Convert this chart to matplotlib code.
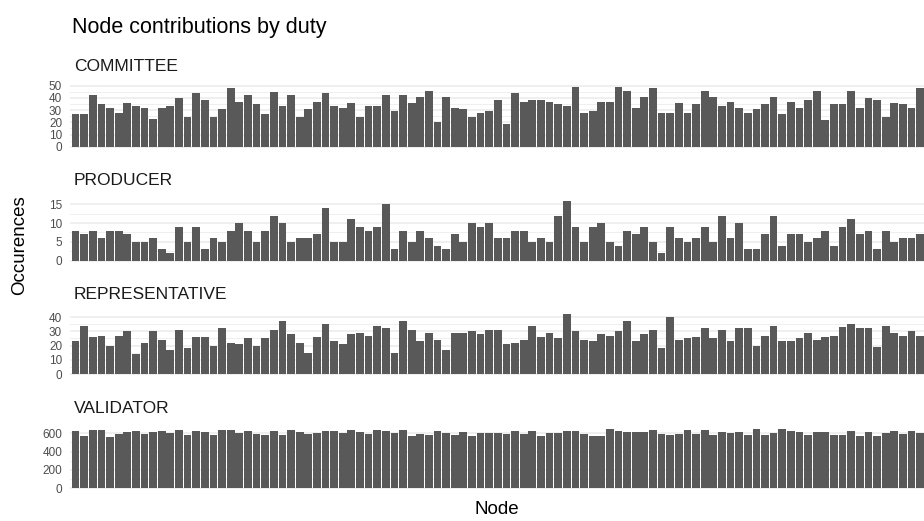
import matplotlib
matplotlib.use("Agg")
import matplotlib.pyplot as plt
import numpy as np

plt.rcParams['font.family'] = ['Liberation Sans', 'DejaVu Sans']

duties = ["COMMITTEE", "PRODUCER", "REPRESENTATIVE", "VALIDATOR"]

committee = [27, 27, 42, 35, 32, 28, 36, 33, 32, 23, 32, 33, 40, 24, 44, 38, 24, 31, 48, 37,
             42, 35, 27, 45, 33, 42, 24, 31, 37, 44, 33, 32, 36, 24, 33, 33, 42, 29, 42, 36,
             41, 46, 20, 41, 32, 31, 24, 28, 29, 38, 19, 44, 37, 38, 38, 37, 35, 33, 49, 28,
             29, 37, 37, 49, 46, 32, 41, 48, 28, 28, 36, 28, 35, 46, 41, 33, 37, 32, 28, 31,
             35, 41, 27, 37, 32, 38, 46, 22, 35, 35, 46, 32, 40, 38, 24, 36, 35, 32, 48]

producer = [8, 7, 8, 6, 8, 8, 7, 5, 5, 6, 3, 2, 9, 5, 9, 3, 6, 5, 8, 10,
            8, 5, 8, 12, 10, 5, 6, 6, 7, 14, 5, 5, 11, 9, 8, 9, 15, 3, 8, 5,
            8, 6, 4, 3, 7, 5, 10, 9, 10, 6, 6, 8, 8, 5, 6, 5, 12, 16, 9, 5,
            9, 10, 5, 4, 8, 7, 9, 5, 2, 9, 6, 5, 6, 9, 5, 12, 6, 10, 3, 3,
            7, 12, 4, 7, 7, 5, 6, 8, 4, 9, 11, 7, 8, 3, 8, 5, 6, 6, 7]

representative = [23, 34, 26, 27, 20, 27, 30, 14, 22, 30, 24, 17, 31, 18, 26, 26, 20, 32, 22, 21,
                  25, 20, 25, 31, 37, 28, 22, 15, 26, 35, 23, 21, 28, 29, 27, 34, 32, 15, 37, 31,
                  23, 29, 24, 17, 29, 29, 30, 28, 31, 31, 21, 22, 24, 34, 26, 29, 25, 42, 30, 24,
                  23, 28, 27, 30, 37, 23, 28, 31, 18, 40, 24, 25, 26, 32, 25, 31, 23, 32, 32, 20,
                  27, 34, 23, 23, 25, 29, 24, 26, 27, 33, 35, 32, 32, 19, 34, 29, 27, 30, 27]

validator = [627, 573, 638, 638, 562, 595, 616, 627, 595, 616, 627, 605, 638, 584, 627, 616, 584, 638, 638, 605,
             627, 595, 584, 627, 584, 638, 616, 595, 605, 627, 627, 605, 638, 616, 595, 638, 627, 605, 638, 573,
             595, 584, 627, 605, 584, 616, 573, 605, 605, 605, 595, 627, 595, 627, 573, 605, 605, 627, 627, 595,
             573, 573, 649, 627, 616, 616, 616, 638, 595, 584, 595, 638, 595, 638, 584, 616, 605, 616, 584, 649,
             584, 605, 649, 627, 616, 584, 616, 616, 584, 584, 627, 573, 616, 573, 605, 627, 595, 627, 605]

series = [committee, producer, representative, validator]
ticks = [[0, 10, 20, 30, 40, 50], [0, 5, 10, 15], [0, 10, 20, 30, 40], [0, 200, 400, 600]]
minor_ticks = [[5, 15, 25, 35, 45], [2.5, 7.5, 12.5], [5, 15, 25, 35], [100, 300, 500]]

W, H = 924, 521
fig = plt.figure(figsize=(W / 100, H / 100), dpi=100)
fig.patch.set_facecolor("white")

left_px, right_px = 70.4, 924.0
panels_px = [(83.9, 149.7), (197.5, 263.7), (311.2, 377.0), (425.9, 491.0)]

for name, vals, tk, mtk, (top, bot) in zip(duties, series, ticks, minor_ticks, panels_px):
    ax = fig.add_axes([left_px / W, 1 - bot / H, (right_px - left_px) / W, (bot - top) / H])
    n = len(vals)
    x = np.arange(1, n + 1)
    ax.bar(x, vals, width=0.9, color="#595959", zorder=3)
    mx = max(vals)
    ax.set_ylim(-0.05 * mx, mx * 1.05)
    ax.set_xlim(0.4, n + 0.45)
    ax.set_yticks(tk)
    ax.set_yticks(mtk, minor=True)
    ax.set_xticks([])
    ax.grid(axis="y", which="major", color="#EBEBEB", linewidth=1.1, zorder=0)
    ax.grid(axis="y", which="minor", color="#EBEBEB", linewidth=0.55, zorder=0)
    ax.tick_params(axis="y", which="both", length=0, pad=6, labelsize=8.5, labelcolor="#4D4D4D")
    for s in ax.spines.values():
        s.set_visible(False)
    fig.text(74 / W, 1 - (top - 17) / H, name, ha="left", va="center", fontsize=12.5, color="#1A1A1A")

fig.text(72 / W, 1 - 27 / H, "Node contributions by duty", ha="left", va="center", fontsize=15.5, color="black")
fig.text(497 / W, 1 - 510 / H, "Node", ha="center", va="center", fontsize=13.5, color="black")
fig.text(20 / W, 1 - 245 / H, "Occurences", ha="center", va="center", rotation=90, fontsize=13.5, color="black")

fig.savefig("out.png", dpi=100, facecolor="white")
